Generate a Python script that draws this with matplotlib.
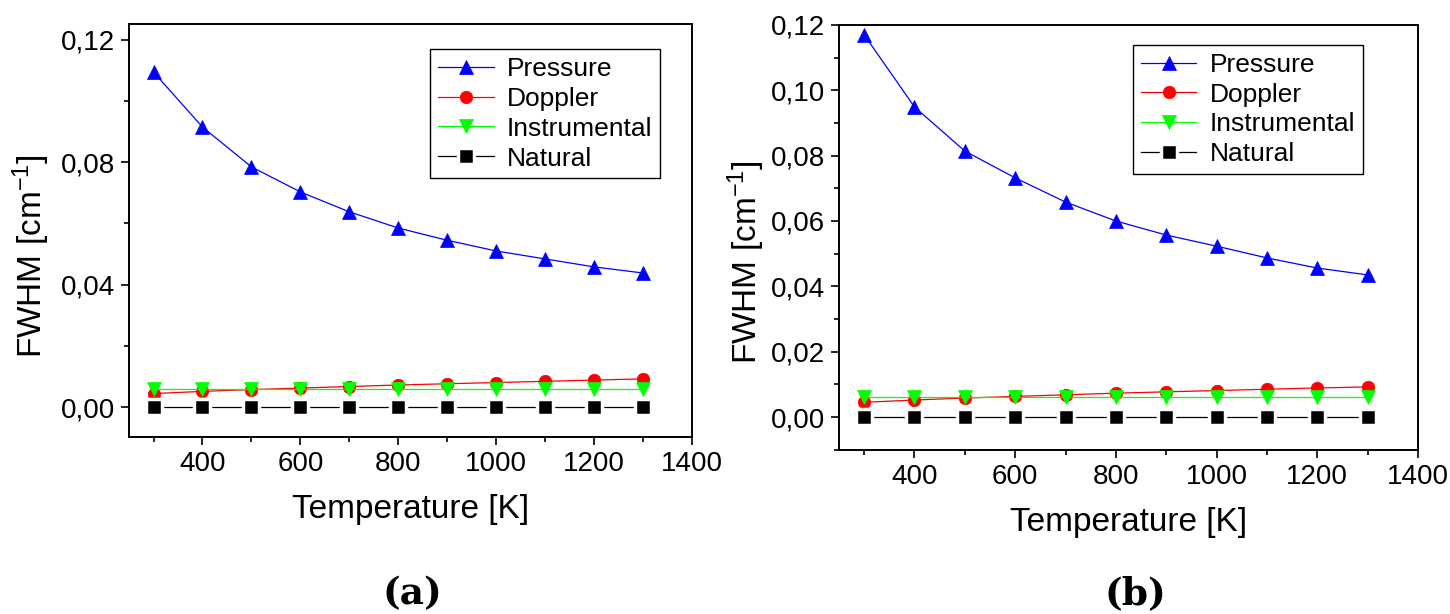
import matplotlib
matplotlib.use("Agg")
import matplotlib.pyplot as plt
from matplotlib.ticker import MultipleLocator, FuncFormatter
from matplotlib import rcParams

rcParams["font.family"] = ["Liberation Sans", "DejaVu Sans"]
rcParams["mathtext.fontset"] = "custom"
rcParams["mathtext.rm"] = "Liberation Sans"
rcParams["mathtext.it"] = "Liberation Sans:italic"
rcParams["mathtext.bf"] = "Liberation Sans:bold"

temperature = [300, 400, 500, 600, 700, 800, 900, 1000, 1100, 1200, 1300]

# panel (a)
pressure_a = [0.1095, 0.0915, 0.0785, 0.0703, 0.0638, 0.0585, 0.0545, 0.0510, 0.0484, 0.0458, 0.0438]
doppler_a = [0.0044, 0.0051, 0.0057, 0.0062, 0.0067, 0.0072, 0.0076, 0.0080, 0.0084, 0.0088, 0.0092]
instrumental_a = [0.006] * 11
natural_a = [0.0] * 11

# panel (b)
pressure_b = [0.1170, 0.0949, 0.0814, 0.0732, 0.0658, 0.0600, 0.0557, 0.0523, 0.0487, 0.0456, 0.0435]
doppler_b = [0.0045, 0.0052, 0.0058, 0.0063, 0.0068, 0.0073, 0.0077, 0.0081, 0.0085, 0.0089, 0.0092]
instrumental_b = [0.006] * 11
natural_b = [0.0] * 11

labels = ["Pressure", "Doppler", "Instrumental", "Natural"]


def comma_fmt(v, pos):
    return f"{v:.2f}".replace(".", ",")


def panel(ax, series, ylim, ymajor, legend_anchor, ylabel_xy):
    styles = [
        dict(color="#0000ff", marker="^", ms=10, mec="#0000ff", mew=0.5),
        dict(color="#ff0000", marker="o", ms=9, mec="#ff0000", mew=0.5),
        dict(color="#00ff00", marker="v", ms=10, mec="#00ff00", mew=0.5),
        dict(color="black", marker="s", ms=11, mec="white", mew=2.5),
    ]
    for y, lab, st in zip(series, labels, styles):
        ax.plot(temperature, y, lw=0.9, label=lab, **st)

    ax.set_xlim(250, 1400)
    ax.set_ylim(*ylim)
    ax.xaxis.set_major_locator(MultipleLocator(200))
    ax.xaxis.set_minor_locator(MultipleLocator(100))
    ax.yaxis.set_major_locator(MultipleLocator(ymajor))
    ax.yaxis.set_minor_locator(MultipleLocator(ymajor / 2))
    ax.yaxis.set_major_formatter(FuncFormatter(comma_fmt))
    ax.tick_params(which="major", direction="out", length=6, width=1.2, labelsize=20, pad=4)
    ax.tick_params(which="minor", direction="out", length=3.5, width=1.2)
    for s in ax.spines.values():
        s.set_linewidth(1.4)

    ax.set_xlabel("Temperature [K]", fontsize=24, labelpad=12)
    ax.set_ylabel(r"FWHM [cm$^{-1}$]", fontsize=24)
    ax.yaxis.set_label_coords(*ylabel_xy)

    leg = ax.legend(loc="upper left", bbox_to_anchor=legend_anchor, borderaxespad=0,
                    fontsize=19, frameon=True, fancybox=False, edgecolor="black",
                    framealpha=1, handlelength=2.1, handletextpad=0.5,
                    labelspacing=0.22, borderpad=0.3)
    leg.get_frame().set_linewidth(1.0)


fig = plt.figure(figsize=(14.5, 6.14), dpi=100)
ax1 = fig.add_axes([0.0890, 0.2883, 0.3883, 0.6726])
ax2 = fig.add_axes([0.5786, 0.2671, 0.3993, 0.6922])

panel(ax1, [pressure_a, doppler_a, instrumental_a, natural_a], (-0.0098, 0.1252), 0.04,
      (0.535, 0.939), (-0.136, 0.438))
panel(ax2, [pressure_b, doppler_b, instrumental_b, natural_b], (-0.0101, 0.12), 0.02,
      (0.508, 0.953), (-0.124, 0.442))

fig.text(412 / 1450, 1 - 594 / 614, "(a)", ha="center", va="center",
         fontsize=27, family="DejaVu Serif", weight="bold")
fig.text(1135 / 1450, 1 - 594 / 614, "(b)", ha="center", va="center",
         fontsize=27, family="DejaVu Serif", weight="bold")

fig.savefig("out.png", dpi=100)
